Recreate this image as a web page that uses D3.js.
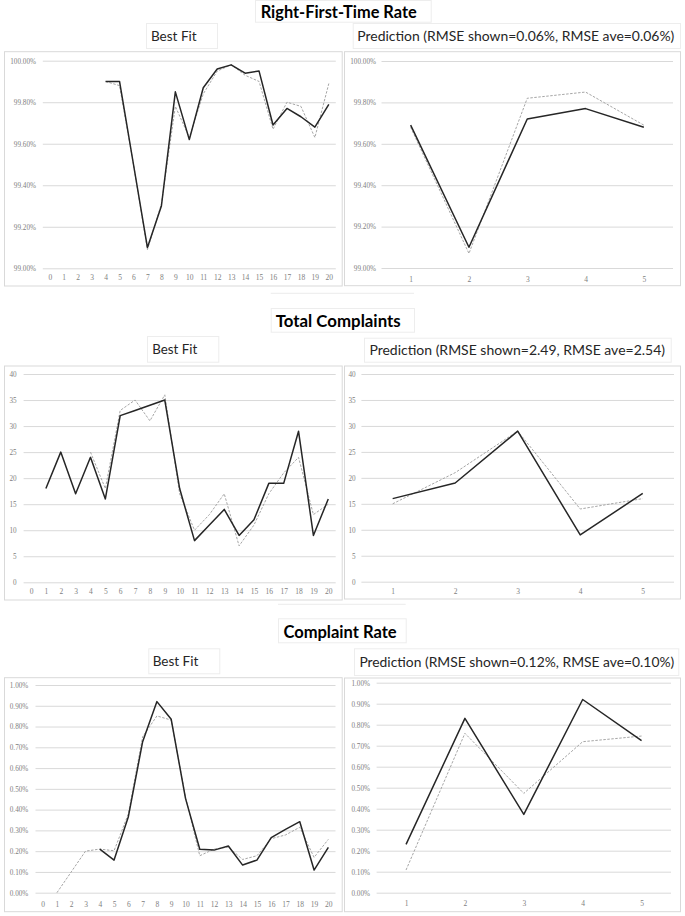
<!DOCTYPE html>
<html>
<head>
<meta charset="utf-8">
<script src="https://cdn.jsdelivr.net/npm/d3@7"></script>
<style>
  html, body { margin: 0; padding: 0; background: #ffffff; }
  svg { display: block; }
</style>
</head>
<body>
<svg id="chart" width="685" height="916"></svg>
<script>
// ---------------- DATA ----------------
const fitCategories = ["0","1","2","3","4","5","6","7","8","9","10","11","12","13","14","15","16","17","18","19","20"];
const predCategories = ["1","2","3","4","5"];

// Right-First-Time Rate (%)
const rftActualFit = [null,null,null,null,99.90,99.90,99.50,99.10,99.30,99.85,99.62,99.87,99.96,99.98,99.94,99.95,99.69,99.77,99.73,99.68,99.79];
const rftModelFit  = [null,null,null,null,99.90,99.88,99.50,99.09,99.31,99.78,99.63,99.84,99.95,99.98,99.93,99.90,99.67,99.80,99.78,99.63,99.89];
const rftActualPred = [99.69,99.10,99.72,99.77,99.68];
const rftModelPred  = [99.68,99.07,99.82,99.85,99.69];
const rftTicks = [99.0,99.2,99.4,99.6,99.8,100.0];

// Total Complaints
const tcActualFit = [null,18,25,17,24,16,32,33,34,35,18,8,11,14,9,12,19,19,29,9,16];
const tcModelFit  = [null,null,null,null,25,18,33,35,31,36,17,10,13,17,7,11,17,21,24,13,15];
const tcActualPred = [16,19,29,9,17];
const tcModelPred  = [15,21,29,14,16];
const tcTicks = [0,5,10,15,20,25,30,35,40];

// Complaint Rate (%)
const crActualFit = [null,null,null,null,0.21,0.157,0.366,0.727,0.92,0.835,0.454,0.209,0.205,0.225,0.133,0.157,0.265,0.305,0.342,0.109,0.218];
const crModelFit  = [null,0.00,0.10,0.20,0.21,0.202,0.38,0.751,0.851,0.831,0.46,0.178,0.21,0.22,0.16,0.178,0.26,0.278,0.315,0.17,0.257];
const crActualPred = [0.23,0.83,0.373,0.92,0.724];
const crModelPred  = [0.108,0.759,0.473,0.719,0.746];
const crTicks = [0,0.1,0.2,0.3,0.4,0.5,0.6,0.7,0.8,0.9,1.0];

// Titles
const sectionTitles = ["Right-First-Time Rate","Total Complaints","Complaint Rate"];
const fitTitle = "Best Fit";
const predTitles = [
  "Prediction (RMSE shown=0.06%, RMSE ave=0.06%)",
  "Prediction (RMSE shown=2.49, RMSE ave=2.54)",
  "Prediction (RMSE shown=0.12%, RMSE ave=0.10%)"
];

// ---------------- LAYOUT ----------------
const pctFmt = d => d.toFixed(2) + "%";
const intFmt = d => String(d);

const panels = [
  {cats: fitCategories, a: rftActualFit, m: rftModelFit, ticks: rftTicks, dom: [99,100], fmt: pctFmt,
   frame: [4,51.7,341.7,286], plot: [42.8,60.7,335.8,268.3], lblX: 36, xLblY: 277},
  {cats: predCategories, a: rftActualPred, m: rftModelPred, ticks: rftTicks, dom: [99,100], fmt: pctFmt,
   frame: [344,51.7,680,285.7], plot: [381.5,61,673,268], lblX: 376, xLblY: 279},
  {cats: fitCategories, a: tcActualFit, m: tcModelFit, ticks: tcTicks, dom: [0,40], fmt: intFmt,
   frame: [4,366,341.7,600], plot: [23.6,374,335.7,582.3], lblX: 16.7, xLblY: 591.7},
  {cats: predCategories, a: tcActualPred, m: tcModelPred, ticks: tcTicks, dom: [0,40], fmt: intFmt,
   frame: [344,366,680,599], plot: [361.4,374,674,581.7], lblX: 355.7, xLblY: 591},
  {cats: fitCategories, a: crActualFit, m: crModelFit, ticks: crTicks, dom: [0,1], fmt: pctFmt,
   frame: [4,677.7,341.7,911.7], plot: [35.5,685,335.5,892.7], lblX: 28.3, xLblY: 904},
  {cats: predCategories, a: crActualPred, m: crModelPred, ticks: crTicks, dom: [0,1], fmt: pctFmt,
   frame: [344,678,680,911.7], plot: [376.6,682.7,671,892.7], lblX: 370, xLblY: 903.3}
];

const titleBoxes = [
  {text: sectionTitles[0], box: [255,0,430.7,21.7], tx: 338.7, ty: 11.7, w: 156, bold: true, size: 16},
  {text: sectionTitles[1], box: [270.7,308,414,331.7], tx: 338.2, ty: 320.7, w: 125, bold: true, size: 16},
  {text: sectionTitles[2], box: [278,618.3,405.7,642.3], tx: 340, ty: 632.3, w: 113.4, bold: true, size: 16},
  {text: fitTitle, box: [146,23,217,48], tx: 173.8, ty: 36, w: 45.7, bold: false, size: 14.5},
  {text: fitTitle, box: [147,336,218.3,361.7], tx: 174.8, ty: 349, w: 45, bold: false, size: 14.5},
  {text: fitTitle, box: [148.3,648.3,219.3,673.3], tx: 175.5, ty: 660.7, w: 45.6, bold: false, size: 14.5},
  {text: predTitles[0], box: [352.7,23,680,48], tx: 515.8, ty: 36, w: 317, bold: false, size: 14.5},
  {text: predTitles[1], box: [364,337.7,670.7,361.7], tx: 517.2, ty: 350, w: 295.7, bold: false, size: 14.5},
  {text: predTitles[2], box: [354,648.3,678.3,675], tx: 516.8, ty: 661.7, w: 315, bold: false, size: 14.5}
];

const strayLines = [[270.7,293.3,414,293.3],[278,604.3,405.7,604.3]];

// ---------------- DRAW ----------------
const svg = d3.select("#chart");
svg.append("rect").attr("width",685).attr("height",916).attr("fill","#ffffff");

const gridColor = "#d9d9d9";
const labelColor = "#808080";

strayLines.forEach(l => {
  svg.append("line").attr("x1",l[0]).attr("y1",l[1]).attr("x2",l[2]).attr("y2",l[3])
    .attr("stroke","#ececec").attr("stroke-width",1);
});

panels.forEach(p => {
  const [fx0,fy0,fx1,fy1] = p.frame;
  const [px0,py0,px1,py1] = p.plot;
  const g = svg.append("g");
  g.append("rect").attr("x",fx0+0.5).attr("y",fy0).attr("width",fx1-fx0).attr("height",fy1-fy0)
    .attr("fill","#ffffff").attr("stroke",gridColor).attr("stroke-width",1);

  const x = d3.scalePoint().domain(p.cats).range([px0,px1]).padding(0.5);
  const y = d3.scaleLinear().domain(p.dom).range([py1,py0]);

  const yAxis = d3.axisLeft(y).tickValues(p.ticks).tickFormat(p.fmt).tickSize(-(px1-px0)).tickPadding(px0-p.lblX);
  const yg = g.append("g").attr("transform",`translate(${px0},0)`).call(yAxis);
  yg.select(".domain").remove();
  yg.selectAll(".tick line").attr("stroke",gridColor).attr("stroke-width",1);
  yg.selectAll(".tick text").attr("fill",labelColor).attr("font-family","Liberation Serif, serif")
    .attr("font-size",7.2);

  const xAxis = d3.axisBottom(x).tickSize(0);
  const xg = g.append("g").attr("transform",`translate(0,${py1})`).call(xAxis);
  xg.select(".domain").remove();
  xg.selectAll(".tick text").attr("fill",labelColor).attr("font-family","Liberation Serif, serif")
    .attr("font-size",7.5).attr("dy","0.35em").attr("y", p.xLblY - py1);

  const line = d3.line()
    .defined(d => d.v !== null)
    .x(d => x(d.c)).y(d => y(d.v));

  const modelData = p.cats.map((c,i) => ({c, v: p.m[i]}));
  const actualData = p.cats.map((c,i) => ({c, v: p.a[i]}));

  g.append("path").datum(modelData).attr("d",line).attr("fill","none")
    .attr("stroke","#a6a6a6").attr("stroke-width",1).attr("stroke-dasharray","2.5,1.5");
  g.append("path").datum(actualData).attr("d",line).attr("fill","none")
    .attr("stroke","#262626").attr("stroke-width",1.5).attr("stroke-linejoin","round");
});

titleBoxes.forEach(t => {
  const [bx0,by0,bx1,by1] = t.box;
  svg.append("rect").attr("x",bx0+0.5).attr("y",by0+0.5).attr("width",bx1-bx0).attr("height",by1-by0)
    .attr("fill","#ffffff").attr("stroke","#ededed").attr("stroke-width",1);
  const txt = svg.append("text").attr("x",t.tx).attr("y",t.ty).attr("text-anchor","middle").attr("dy","0.36em")
    .attr("font-family","Lato, 'Open Sans', sans-serif").attr("font-weight", t.bold ? 700 : 400)
    .attr("font-size", t.size).attr("fill", t.bold ? "#000000" : "#262626")
    .text(t.text);
  // fit the natural width of the text to the measured width in the reference
  const natural = txt.node().getComputedTextLength();
  if (natural > 0) {
    txt.attr("font-size", (t.size * t.w / natural).toFixed(2));
  }
});
</script>
</body>
</html>
